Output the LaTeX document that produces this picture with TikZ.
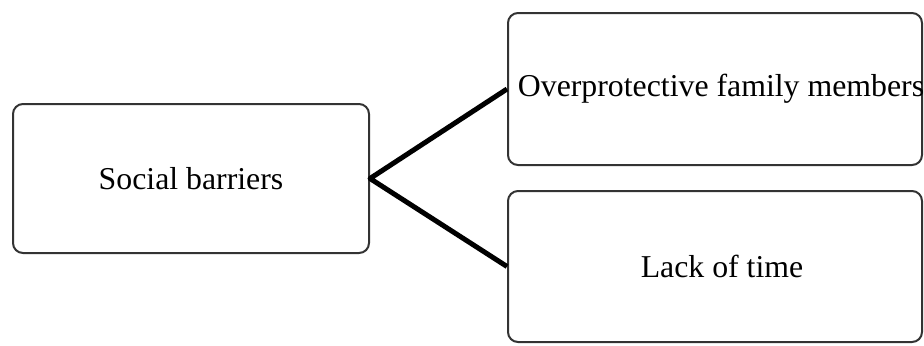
\documentclass[tikz,border=0pt]{standalone}
\usepackage{fontspec}
\setmainfont{Liberation Serif}
\newfontfamily\boxfont{Liberation Serif}
\begin{document}
\begin{tikzpicture}[x=0.5pt,y=-0.5pt,
  box/.style={draw=black!80, line width=1pt, rounded corners=5pt, inner sep=0pt},
  boxtext/.style={font=\boxfont\fontsize{15.9}{19}\selectfont, inner sep=0pt},
  branch/.style={line width=2.5pt, line join=round}]
\useasboundingbox (0,0) rectangle (924,345);
% boxes
\node[box, minimum width=178pt, minimum height=74.5pt] (sb) at (191,178.5) {};
\node[box, minimum width=207pt, minimum height=76pt] (ov) at (715,89) {};
\node[box, minimum width=207pt, minimum height=75.5pt] (lt) at (715,266.5) {};
% labels
\node[boxtext] (sbt) at (sb.center) {Social barriers};
\node[boxtext, xshift=3pt] (ovt) at (ov.center) {Overprotective family members};
\node[boxtext, xshift=3.5pt] (ltt) at (lt.center) {Lack of time};
% branches
\draw[branch] (ov.west) -- (sb.east) -- (lt.west);
\end{tikzpicture}
\end{document}
